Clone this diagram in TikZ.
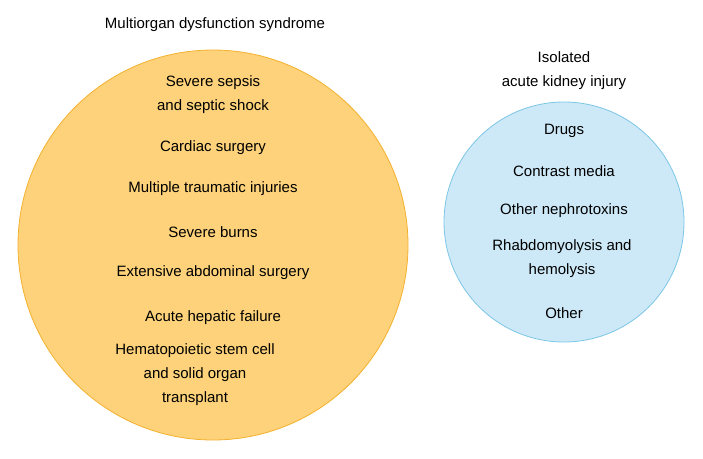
\documentclass[tikz,border=0pt]{standalone}
\usepackage{fontspec}
\setmainfont{Liberation Sans}
\definecolor{mofill}{HTML}{FDD27A}
\definecolor{moline}{HTML}{F3B12F}
\definecolor{akfill}{HTML}{CDE9F7}
\definecolor{akline}{HTML}{7CC6E6}
\begin{document}
\begin{tikzpicture}[x=1pt,y=-1pt,
  txt/.style={align=center,font=\fontsize{15}{24}\selectfont,inner sep=0pt},
  circ/.style 2 args={draw=#1,fill=#2,line width=0.8pt}]
\useasboundingbox (0,0) rectangle (703,458);
\draw[circ={moline}{mofill}] (213,245) circle (195);
\draw[circ={akline}{akfill}] (564,222) circle (120);
\node[txt] (mods) at (215,25) {Multiorgan dysfunction syndrome};
\node[txt] (aki) at (564,71) {Isolated\\acute kidney injury};
% causes of multiorgan dysfunction
\node[txt] (sepsis) at (213,95) {Severe sepsis\\and septic shock};
\node[txt] (cardiac) at (213,148) {Cardiac surgery};
\node[txt] (trauma) at (213,189) {Multiple traumatic injuries};
\node[txt] (burns) at (213,232) {Severe burns};
\node[txt] (abdom) at (213,273) {Extensive abdominal surgery};
\node[txt] (hepatic) at (213,318) {Acute hepatic failure};
\node[txt] (transpl) at (195,375) {Hematopoietic stem cell\\and solid organ\\transplant};
% causes of isolated aki
\node[txt] (drugs) at (564,131) {Drugs};
\node[txt] (contrast) at (564,171) {Contrast media};
\node[txt] (nephro) at (564,211) {Other nephrotoxins};
\node[txt] (rhabdo) at (562,259) {Rhabdomyolysis and\\hemolysis};
\node[txt] (other) at (564,313) {Other};
\end{tikzpicture}
\end{document}
